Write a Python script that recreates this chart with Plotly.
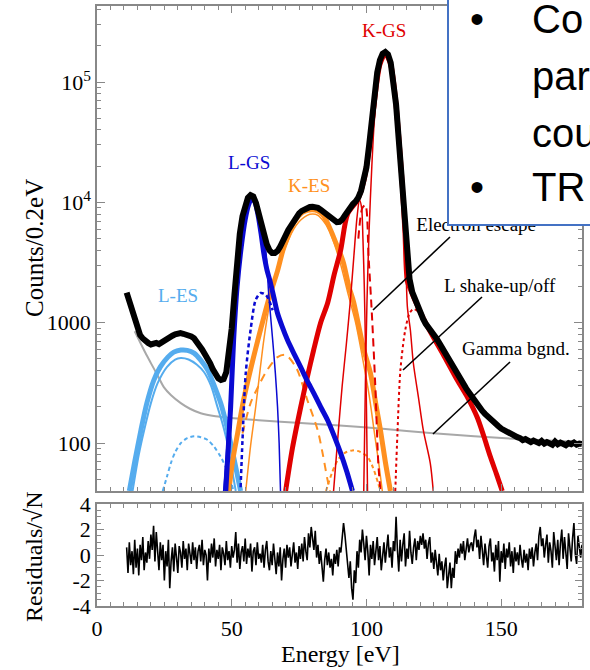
import math
import plotly.graph_objects as go

# ---------------- data ----------------
data_energy = list(range(11, 181))
data_counts = [
    1780, 1500, 1250, 1050, 900, 790, 740, 700, 680, 660,
    670, 680, 665, 690, 700, 720, 750, 780, 800, 815,
    820, 810, 800, 790, 770, 745, 700, 650, 600, 550,
    510, 460, 410, 370, 345, 335, 340, 390, 560, 900,
    1700, 3300, 5500, 7700, 9500, 10900, 11500, 11200, 9900, 8000,
    6600, 5400, 4500, 4000, 3800, 3800, 3950, 4300, 4900, 5400,
    5900, 6400, 7000, 7600, 8100, 8500, 8800, 9050, 9150, 9200,
    9150, 9000, 8700, 8350, 7950, 7550, 7200, 6950, 6850, 6900,
    7200, 7800, 8500, 9200, 9700, 10200, 11000, 12500, 15000, 19500,
    30000, 52000, 85000, 120000, 152000, 172000, 178000, 170000, 145000, 105000,
    65000, 33000, 16000, 7500, 3600, 2300, 1800, 1550, 1350, 1200,
    1080, 980, 920, 870, 800, 740, 680, 620, 570, 520,
    470, 430, 395, 360, 335, 305, 285, 265, 245, 225,
    210, 195, 185, 175, 168, 160, 150, 145, 138, 132,
    128, 125, 122, 118, 115, 112, 110, 106, 108, 104,
    102, 105, 103, 100, 104, 99, 102, 100, 97, 103,
    98, 101, 99, 96, 100, 98, 101, 97, 99, 98,
]

gamma_energy = [14, 15.6, 18, 20, 22.5, 24.8, 27.5, 31.1, 34.5, 38.5, 44, 50.7, 60, 75.6, 90, 105, 124.8, 140, 160, 179.5]
gamma_counts = [850, 718, 560, 462, 365, 292, 250, 215, 193, 177, 167, 161, 155, 147, 140, 132, 121, 114, 107, 102]

les_thick_energy = [12.0, 14, 16.3, 18.5, 21.1, 23.5, 26.3, 28.5, 31.1, 33.5, 36, 38.5, 41.1, 43.5, 45.9, 47.8, 49.6, 51.5, 53.3]
les_thick_counts = [40, 70, 128, 215, 334, 430, 518, 570, 593, 590, 560, 490, 404, 300, 215, 150, 100, 63, 40]
les_thin_energy = [13.2, 15.5, 17.5, 20, 22.5, 26, 29, 31.1, 34, 37, 39.7, 42.3, 44.7, 46.6, 48.4, 50, 51.5]
les_thin_counts = [40, 80, 128, 215, 315, 430, 495, 509, 495, 450, 390, 300, 200, 145, 100, 62, 40]
les_dot_energy = [24.4, 26, 27.4, 29, 31.1, 33.5, 36, 38.5, 41.1, 43.5, 45.9, 48.5, 50.7]
les_dot_counts = [40, 53, 68, 84, 100, 110, 114, 112, 106, 93, 77, 58, 40]

lgs_thick_energy = [47.8, 48.7, 49.6, 50.7, 52, 53.5, 55, 56.3, 57.4, 58.5, 59.8, 61, 61.9, 63, 64.4, 65.7, 67, 68.8,
                    70.7, 73, 75.6, 78, 80.4, 83, 85.6, 88, 90.4, 92.7, 94.8]
lgs_thick_counts = [40, 90, 199, 718, 2000, 4200, 7200, 9600, 10800, 10200, 7800, 5300, 3790, 2800, 2140, 1600, 1200, 920,
                    718, 560, 428, 330, 261, 200, 155, 115, 83, 58, 40]
lgs_thin_energy = [47.0, 48.0, 49.0, 50.5, 52, 53.5, 55, 56.3, 57.4, 58.5, 59.8, 61, 62.6, 63.7, 65.2, 66.2, 67.0, 67.6, 68.1]
lgs_thin_counts = [40, 80, 180, 600, 1800, 4000, 7000, 9500, 10500, 9800, 7600, 5500, 4000, 1766, 718, 380, 200, 100, 40]
lgs_dot_energy = [53.3, 54.0, 55.2, 57.0, 58.9, 60.7, 62.0, 63.3, 65.2]
lgs_dot_counts = [43, 106, 380, 870, 1550, 1766, 1740, 1630, 1270]

kes_thick_energy = [48.9, 50.5, 52.2, 54.4, 58.1, 61.9, 64.5, 67, 69, 71, 73, 76, 78, 80, 82, 84, 86.7, 88.5, 90.4,
                    91.5, 93.5, 95.2, 96.7, 99, 101.5, 103.5, 105.2, 107, 108.9]
kes_thick_counts = [40, 75, 121, 228, 518, 1110, 1800, 2700, 4000, 5300, 6800, 8200, 8600, 8700, 8500, 7800, 5900, 4700, 3700,
                    3130, 2000, 1500, 1050, 600, 380, 210, 128, 70, 40]
kes_thin_energy = [55.2, 57, 58.9, 60.5, 61.9, 64, 67, 70, 74, 78, 80, 82, 86, 90, 93, 96, 99, 101, 103, 104.5, 105.9]
kes_thin_counts = [40, 95, 200, 400, 718, 1400, 2600, 4300, 6500, 7800, 8000, 7800, 6000, 3300, 1800, 1000, 450, 250, 120, 70, 40]
kes_dash_energy = [54, 57, 60, 63, 67, 70, 74, 78, 81.9, 83.7, 85.6, 86.5]
kes_dash_counts = [120, 215, 300, 400, 518, 540, 420, 230, 128, 83, 49, 40]
kes_dot_energy = [85, 87, 89.3, 92, 94.8, 97.5, 100.4, 102.5, 104.4, 105.2]
kes_dot_counts = [40, 55, 72, 83, 87, 85, 77, 62, 46, 40]

kgs_thick_energy = [70, 72.5, 75.6, 78, 80.4, 83, 85.6, 88, 90.4, 93, 96.7, 99, 101, 103, 105, 107, 109, 110.7, 112,
                    113.3, 114.3, 115.2, 116.3, 118.5, 121, 124.8, 129, 133.7, 137.5, 141.1, 143.5, 146, 148.3, 150.4]
kgs_thick_counts = [40, 90, 199, 350, 593, 1000, 1460, 2500, 3990, 8000, 10500, 15000, 28000, 70000, 140000, 172000, 140000,
                    75000, 35000, 14000, 5500, 2200, 1900, 1450, 1100, 760, 520, 334, 240, 164, 115, 77, 55, 40]
kgs_sat_energy = [87.8, 89.5, 91, 92.5, 94, 95.3, 96.5, 97.4, 98.2, 98.7, 99.2, 99.6, 100.0, 100.4]
kgs_sat_counts = [40, 120, 300, 650, 1500, 3500, 7500, 10500, 9000, 5000, 2000, 700, 200, 40]
kgs_thin_energy = [99.0, 99.6, 100.2, 101.0, 102, 103, 105, 107, 109, 110.7, 112, 113.3, 114.5, 115.2, 116.3, 117.4,
                   119.3, 121.1, 123.7, 124.8]
kgs_thin_counts = [40, 300, 1500, 6000, 20000, 50000, 130000, 165000, 135000, 72000, 30000, 12000, 4000, 1350, 870, 463,
                   240, 128, 68, 40]
escape_energy = [97, 98.5, 99.6, 100.8, 102, 103.2, 104.4, 105.2]
escape_counts = [5000, 9000, 9500, 3500, 1200, 330, 68, 40]
shake_energy = [110.7, 111.5, 112.6, 114.4, 116, 117.4, 119, 121, 124.8, 129, 133.7, 137.5, 141.1, 143.5, 146, 148.3, 150.4]
shake_counts = [40, 120, 404, 870, 1200, 1300, 1250, 1100, 740, 505, 325, 233, 160, 112, 75, 54, 40]

residual_start = 11.0
residual_step = 0.5
residual_values = [
    0.6, -1.4, 1.0, -0.8, 0.3, -1.5, 1.2, -1.0, 0.5, -1.6, 0.8, -0.4, 1.4, -1.2, 0.2, -0.6, 1.1, -0.3, 1.6, 0.4,
    2.3, -0.5, 1.8, 0.2, -1.2, 1.0, -0.4, 0.8, -2.0, 0.3, -0.9, 1.2, -2.6, -0.5, 0.6, -1.3, 0.9, -0.2, -1.4, 0.7,
    0.2, -1.0, 1.1, -0.3, 0.5, -1.2, 0.9, 0.1, -0.7, 1.0, -0.4, 0.6, -1.1, 0.3, 0.8, -0.5, 1.2, -0.8, 0.4, 0.0,
    -2.0, 0.5, -0.6, 0.9, -0.2, 1.3, -0.9, 0.4, -0.3, 0.8, -1.2, 0.6, 0.1, -0.8, 1.1, -0.4, 0.3, -1.0, 0.7, -0.2,
    0.4, 1.8, -0.6, 0.9, -1.1, 0.2, 0.7, -0.5, 1.3, -0.7, 0.5, -0.2, 0.9, -1.3, 0.3, 0.6, -0.8, 1.0, -0.3, 0.1,
    -0.6, 0.8, -1.0, 0.4, 1.1, -0.5, -1.2, 0.3, -0.8, 0.9, -0.4, -1.5, 0.2, -0.9, 0.6, -2.0, -0.3, 0.5, -1.0, 0.8,
    -0.2, 0.6, -0.9, 0.3, 1.0, -0.6, 0.2, -1.1, 0.7, -0.3, 0.9, -0.5, 1.4, 0.3, -0.4, 1.7, 0.6, 2.2, 1.2, 0.4,
    1.9, -0.2, 0.8, -0.7, 0.3, -0.9, -2.1, -0.4, 0.5, -0.8, 0.2, -1.0, -0.3, -1.6, 0.1, -0.7, 0.4, -0.9, 0.6, 0.2,
    1.2, 2.5, 1.6, 0.4, -0.6, -1.8, -0.5, -2.6, -3.5, -1.2, -2.2, 0.3, -1.0, 1.2, 0.2, 2.0, 0.9, -0.4, 1.5, 0.3,
    -1.6, 0.8, -0.3, 1.1, -0.8, 0.5, 1.4, -0.4, 0.7, -1.2, 0.2, 1.0, -0.6, 0.9, 1.6, -0.2, 0.6, -1.0, 1.1, 0.3,
    3.0, 0.4, -1.3, 1.2, -0.5, 0.8, 1.7, -0.9, 0.5, -0.3, 1.9, 0.2, -0.7, 0.6, 1.3, -0.4, 1.1, 0.4, 1.5, 0.8,
    1.7, 0.5, 1.2, -0.3, 0.9, 1.4, -0.6, 0.2, -1.1, 0.4, -0.8, -1.6, 0.1, -1.2, -0.5, -2.0, -0.9, -0.2, -2.6, -1.4,
    -0.6, -2.6, -1.0, -1.8, 0.3, -0.7, 0.5, -0.2, 0.9, 0.1, 1.1, -0.4, 0.7, 1.3, 0.2, 0.8, 1.0, 0.3, 1.4, 2.0,
    0.6, 1.2, -0.3, 1.5, 0.4, -0.8, 0.9, 0.1, -1.0, 0.7, 1.3, -0.5, 0.2, -1.3, 0.8, -0.4, 1.1, -2.1, 0.3, -0.6,
    0.9, -1.1, 0.5, -0.2, 1.0, -0.9, 0.3, -1.4, 0.6, -0.5, 0.2, -0.8, 0.8, -0.3, -1.0, 0.4, -0.6, 0.1, -1.2, 0.5,
    -0.3, 0.6, -0.9, 0.2, 0.9, -0.4, 1.5, 2.2, 0.7, 1.3, -0.2, 0.8, 1.6, -0.6, 1.0, 0.3, -1.0, 1.8, 0.5, -0.4,
    1.2, -0.8, 0.9, 2.0, -0.3, 1.4, 0.2, -1.1, 1.7, 0.6, -0.5, 1.3, 2.5, 0.1, -0.7, 1.5, 0.4, -0.2, 0.8,
]
residual_energy = [residual_start + residual_step * i for i in range(len(residual_values))]

main_ticks = [100, 1000, 10000, 100000]
main_ticktext = ["100", "1000", "10<sup>4</sup>", "10<sup>5</sup>"]
res_ticks = [-4, -2, 0, 2, 4]
res_ticktext = ["-4", "-2", "0", "2", "4"]

# ---------------- styles ----------------
C_LB = "#55ACEE"
C_B = "#0A0AD2"
C_O = "#FF9020"
C_R = "#E00000"
C_G = "#A8A8A8"
AX = "#888888"
SERIF = "Liberation Serif, Times New Roman, serif"
SANS = "Liberation Sans, Arial, sans-serif"

# figure pixel geometry helpers (layout only)
W, H = 590, 670
ML, MR, MT, MB = 97, 8, 6, 64
PW, PH = W - ML - MR, H - MT - MB


def px(xp):
    return (xp - ML) / PW


def py(yp):
    return (H - MB - yp) / PH


fig = go.Figure()


def comp(xs, ys, color, width, dash="solid"):
    fig.add_trace(go.Scatter(x=xs, y=ys, mode="lines", xaxis="x", yaxis="y",
                             line=dict(color=color, width=width, dash=dash, shape="spline", smoothing=0.8),
                             hoverinfo="skip"))


comp(gamma_energy, gamma_counts, C_G, 2)
comp(les_thick_energy, les_thick_counts, C_LB, 5)
comp(les_thin_energy, les_thin_counts, C_LB, 2)
comp(les_dot_energy, les_dot_counts, C_LB, 2, "4px,3px")
comp(kes_thick_energy, kes_thick_counts, C_O, 5)
comp(kes_thin_energy, kes_thin_counts, C_O, 1.5)
comp(kes_dash_energy, kes_dash_counts, C_O, 2, "8px,6px")
comp(kes_dot_energy, kes_dot_counts, C_O, 2, "4px,3px")
comp(kgs_thick_energy, kgs_thick_counts, C_R, 5)
comp(kgs_sat_energy, kgs_sat_counts, C_R, 1.5)
comp(kgs_thin_energy, kgs_thin_counts, C_R, 1.5)
comp(escape_energy, escape_counts, C_R, 2, "8px,5px")
comp(shake_energy, shake_counts, C_R, 2, "3px,3px")
comp(lgs_thick_energy, lgs_thick_counts, C_B, 5)
comp(lgs_thin_energy, lgs_thin_counts, C_B, 1.5)
comp(lgs_dot_energy, lgs_dot_counts, C_B, 2.5, "4px,3px")

fig.add_trace(go.Scatter(x=data_energy, y=data_counts, mode="lines", xaxis="x", yaxis="y",
                         line=dict(color="black", width=6), hoverinfo="skip"))

# "Electron escape" label as a text trace so the slide box can cover it
fig.add_trace(go.Scatter(x=[118.5], y=[6300], mode="text", text=["Electron escape"], textposition="middle right",
                         textfont=dict(family=SERIF, size=19, color="black"), xaxis="x", yaxis="y",
                         hoverinfo="skip", cliponaxis=False))

fig.add_trace(go.Scatter(x=residual_energy, y=residual_values, mode="lines", xaxis="x2", yaxis="y2",
                         line=dict(color="black", width=1.6), hoverinfo="skip"))

minor_log = [k * 10 ** d for d in range(1, 6) for k in range(2, 10) if 40 <= k * 10 ** d <= 4.2e5]

common_axis = dict(showline=True, linecolor=AX, linewidth=1.5, mirror="allticks", showgrid=False, zeroline=False,
                   ticks="inside", tickcolor=AX, tickwidth=1.2, automargin=False,
                   tickfont=dict(family=SERIF, size=22, color="black"))

fig.update_layout(
    width=W, height=H,
    margin=dict(l=ML, r=MR, t=MT, b=MB, pad=0, autoexpand=False),
    paper_bgcolor="white", plot_bgcolor="white",
    showlegend=False,
    font=dict(family=SERIF, color="black"),
    xaxis=dict(domain=[0, 1], anchor="y", range=[0, 180], tick0=0, dtick=50, ticklen=7, showticklabels=False,
               minor=dict(ticks="inside", dtick=5, tick0=0, ticklen=4, tickcolor=AX, showgrid=False), **common_axis),
    yaxis=dict(domain=[py(491), 1], anchor="x", type="log", range=[math.log10(40), 5.632],
               tickmode="array", tickvals=main_ticks, ticktext=main_ticktext, ticklen=8,
               minor=dict(ticks="inside", tickmode="array", tickvals=minor_log, ticklen=4, tickcolor=AX, showgrid=False),
               **common_axis),
    xaxis2=dict(domain=[0, 1], anchor="y2", range=[0, 180], tick0=0, dtick=50, ticklen=7, ticklabelstandoff=2,
                minor=dict(ticks="inside", dtick=5, tick0=0, ticklen=4, tickcolor=AX, showgrid=False), **common_axis),
    yaxis2=dict(domain=[0, py(504)], anchor="x2", range=[-4, 4], tickmode="array", tickvals=res_ticks,
                ticktext=res_ticktext, ticklen=7,
                minor=dict(ticks="inside", dtick=0.5, tick0=0, ticklen=4, tickcolor=AX, showgrid=False),
                **common_axis),
)

# pointer lines
for (x0, y0, x1, y1) in [(373, 310, 450, 237), (403, 370, 482, 297), (433, 434, 510, 362)]:
    fig.add_shape(type="line", xref="paper", yref="paper", x0=px(x0), y0=py(y0), x1=px(x1), y1=py(y1),
                  line=dict(color="black", width=1.6), layer="above")

# slide text box overlay
fig.add_shape(type="rect", xref="paper", yref="paper", x0=px(448), x1=px(650), y0=py(225), y1=py(-20),
              line=dict(color="#4472C4", width=2), fillcolor="white", layer="above")

ann = []


def label(text, xp, yp, color, size=19, family=SERIF, xanchor="center", angle=0):
    ann.append(dict(text=text, x=px(xp), y=py(yp), xref="paper", yref="paper", showarrow=False,
                    xanchor=xanchor, yanchor="middle", textangle=angle,
                    font=dict(family=family, size=size, color=color)))


label("K-GS", 384, 30, C_R)
label("L-GS", 249, 162, C_B)
label("K-ES", 309, 185, C_O)
label("L-ES", 178, 295, C_LB)
label("L shake-up/off", 442, 285, "black", xanchor="left")
label("Gamma bgnd.", 460, 348, "black", xanchor="left")
label("Counts/0.2eV", 34, 248, "black", size=25, angle=-90)
label("Residuals/\u221aN", 34, 556, "black", size=24, angle=-90)
label("Energy [eV]", 340, 654, "black", size=24)

for text, xp, yp in [("\u2022", 477, 19), ("Co", 530, 19), ("par", 530, 76), ("cou", 530, 133),
                     ("\u2022", 477, 187), ("TR", 530, 187)]:
    label(text, xp, yp, "black", size=40, family=SANS, xanchor="center" if text == "\u2022" else "left")

fig.update_layout(annotations=ann)

fig.write_html("out.html", config={"displayModeBar": False},
               post_script="document.body.style.margin='0px';")
